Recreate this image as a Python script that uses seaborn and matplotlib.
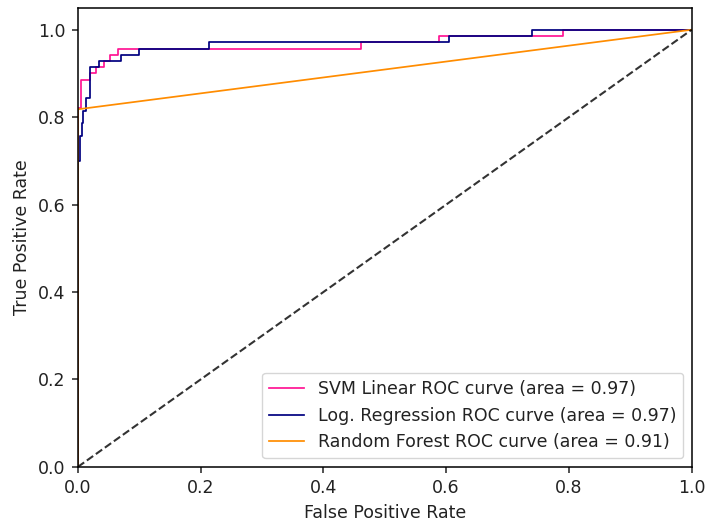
import numpy as np
import pandas as pd
import matplotlib
matplotlib.use('Agg')
import matplotlib.pyplot as plt
import seaborn as sns

# ROC curve points (step curves)
svm_fpr = [0.0, 0.0, 0.005, 0.005, 0.02, 0.02, 0.03, 0.03, 0.042, 0.042, 0.052, 0.052,
           0.066, 0.066, 0.462, 0.462, 0.589, 0.589, 0.79, 0.79, 1.0]
svm_tpr = [0.0, 0.82, 0.82, 0.886, 0.886, 0.9, 0.9, 0.914, 0.914, 0.929, 0.929, 0.943,
           0.943, 0.957, 0.957, 0.971, 0.971, 0.986, 0.986, 1.0, 1.0]

lr_fpr = [0.0, 0.0, 0.003, 0.003, 0.006, 0.006, 0.009, 0.009, 0.013, 0.013, 0.019, 0.019,
          0.035, 0.035, 0.07, 0.07, 0.1, 0.1, 0.214, 0.214, 0.604, 0.604, 0.739, 0.739, 1.0]
lr_tpr = [0.0, 0.70, 0.70, 0.757, 0.757, 0.786, 0.786, 0.814, 0.814, 0.843, 0.843, 0.914,
          0.914, 0.929, 0.929, 0.943, 0.943, 0.957, 0.957, 0.971, 0.971, 0.986, 0.986, 1.0, 1.0]

rf_fpr = [0.0, 0.0, 1.0]
rf_tpr = [0.0, 0.818, 1.0]

labels = ['SVM Linear ROC curve (area = 0.97)',
          'Log. Regression ROC curve (area = 0.97)',
          'Random Forest ROC curve (area = 0.91)']
colors = ['deeppink', 'navy', 'darkorange']

# the reference looks like a default figure scaled up ~1.25x
plt.rcParams.update({
    'font.size': 12.5,
    'axes.linewidth': 1.1,
    'xtick.major.size': 4.4,
    'ytick.major.size': 4.4,
    'xtick.major.width': 1.1,
    'ytick.major.width': 1.1,
    'xtick.major.pad': 4.4,
    'ytick.major.pad': 4.4,
    'axes.labelpad': 5,
    'text.color': '#222222',
    'axes.labelcolor': '#222222',
    'xtick.color': '#222222',
    'ytick.color': '#222222',
})

fig = plt.figure(figsize=(7.08, 5.24), dpi=100)
ax = fig.add_axes([0.110, 0.109, 0.867, 0.876])

curves = [(svm_fpr, svm_tpr), (lr_fpr, lr_tpr), (rf_fpr, rf_tpr)]
for (fpr, tpr), lab, col in zip(curves, labels, colors):
    d = pd.DataFrame({'fpr': fpr, 'tpr': tpr})
    sns.lineplot(data=d, x='fpr', y='tpr', estimator=None, sort=False,
                 color=col, lw=1.25, label=lab, ax=ax)

# diagonal reference
ax.plot([0, 1], [0, 1], color='k', linestyle='--', lw=1.5, alpha=0.8)

ax.set_xlim(0.0, 1.0)
ax.set_ylim(0.0, 1.05)
ax.set_xlabel('False Positive Rate')
ax.set_ylabel('True Positive Rate')
ax.legend(loc='lower right', fontsize=12.5)

plt.savefig('out.png', dpi=100)
plt.close()
